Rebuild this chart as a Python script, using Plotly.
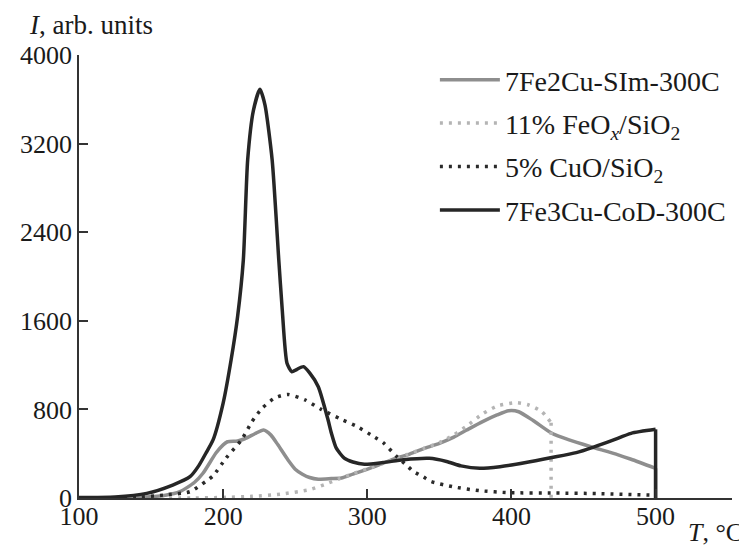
import plotly.graph_objects as go

# 7Fe3Cu-CoD-300C (black solid); drops to 0 at the last temperature
t_black = [100, 125, 147, 165, 177, 183, 188, 193, 200, 205.5, 210, 214, 217, 221, 225.5, 229, 234, 238.6, 241, 244.3,
           247.7, 251, 255.7, 260, 266, 272.8, 275, 278.5, 284, 290, 298, 311, 325, 343, 355, 365, 378, 392, 410,
           428, 445, 457, 470, 483, 500]
i_black = [5, 10, 42, 117, 192, 290, 404, 524, 857, 1246, 1637, 2149, 3052, 3500, 3690, 3550, 3052, 2149, 1698, 1216,
           1140, 1160, 1186, 1130, 1005, 704, 590, 450, 360, 325, 305, 320, 345, 358, 330, 290, 268, 283, 320,
           365, 410, 460, 520, 584, 620]

# 7Fe2Cu-SIm-300C (gray solid); drops to 0 at the last temperature
t_gray = [100, 140, 160, 170, 180, 186, 195, 200, 203, 210, 215, 222, 228, 233, 238, 245, 250, 255, 260, 266, 275, 282,
          290, 305, 320, 328, 340, 350, 360, 369, 380, 390, 398, 405, 415, 428, 440, 455, 474, 483, 500]
i_gray = [0, 5, 25, 57, 140, 223, 406, 480, 508, 515, 535, 580, 614, 570, 480, 343, 260, 215, 185, 170, 175, 180,
          215, 283, 360, 390, 450, 494, 550, 614, 690, 750, 788, 779, 700, 584, 524, 463, 390, 350, 268]

# 11% FeOx/SiO2 (light gray dotted); drops to 0 at the last temperature
t_feox = [100, 180, 200, 220, 240, 260, 270, 280, 290, 300, 315, 327, 340, 350, 360, 368, 380, 390, 403, 412, 421,
          427.5]
i_feox = [0, 0, 5, 15, 35, 75, 120, 170, 220, 265, 330, 390, 450, 500, 570, 640, 760, 830, 861, 840, 780, 680]

# 5% CuO/SiO2 (black dotted)
t_cuo = [100, 140, 159, 177, 188, 193, 202, 213, 220, 227, 236, 245, 257, 268, 282, 293, 305, 311, 320, 326, 332,
         339, 344, 360, 378, 398, 430, 460, 500]
i_cuo = [0, 5, 27, 57, 150, 200, 360, 530, 690, 810, 905, 935, 885, 800, 710, 645, 550, 500, 380, 310, 240,
         190, 150, 100, 66, 48, 45, 40, 25]

x_ticks = [100, 200, 300, 400, 500]
y_ticks = [0, 800, 1600, 2400, 3200, 4000]

FONT = "Liberation Serif"
TXT = "#1a1a1a"
DOT = "3px,6px"

series = [
    ("7Fe2Cu-SIm-300C", t_gray, i_gray, dict(color="#8e8e8e", width=3.5)),
    ("11% FeO<sub><i>x</i></sub>/SiO<sub>2</sub>", t_feox, i_feox, dict(color="#b4b4b4", width=3.5, dash=DOT)),
    ("5% CuO/SiO<sub>2</sub>", t_cuo, i_cuo, dict(color="#2a2a2a", width=3.5, dash=DOT)),
    ("7Fe3Cu-CoD-300C", t_black, i_black, dict(color="#262626", width=3.5)),
]
drops = {"7Fe2Cu-SIm-300C", "11% FeO<sub><i>x</i></sub>/SiO<sub>2</sub>", "7Fe3Cu-CoD-300C"}

fig = go.Figure()
for k, (name, tx, iy, ln) in enumerate(series):
    fig.add_trace(go.Scatter(x=tx, y=iy, mode="lines", name=name, legendgroup=f"g{k}",
                             line=dict(shape="spline", smoothing=0.6, **ln)))
    if name in drops:
        # vertical fall of the signal to zero at the end of the run
        fig.add_trace(go.Scatter(x=[tx[-1], tx[-1]], y=[iy[-1], 0], mode="lines", legendgroup=f"g{k}",
                                 showlegend=False, line=ln, hoverinfo="skip"))

fig.update_layout(
    width=739, height=538,
    margin=dict(l=63, r=15, t=47, b=48),
    paper_bgcolor="white", plot_bgcolor="white",
    font=dict(family=FONT, size=26, color=TXT),
    showlegend=True,
    legend=dict(x=0.545, y=1.0, xanchor="left", yanchor="top", bgcolor="rgba(0,0,0,0)",
                itemwidth=60, tracegroupgap=4, traceorder="grouped",
                font=dict(family=FONT, size=28, color=TXT)),
    xaxis=dict(range=[100, 553], tickvals=x_ticks, ticks="inside", ticklen=9, tickwidth=1.5,
               tickcolor="#333", showline=True, linecolor="#333", linewidth=1.5, showgrid=False,
               zeroline=False, tickfont=dict(family=FONT, size=26, color=TXT), ticklabelstandoff=-6),
    yaxis=dict(range=[0, 4000], tickvals=y_ticks, ticks="inside", ticklen=9, tickwidth=1.5,
               tickcolor="#333", showline=True, linecolor="#333", linewidth=1.5, showgrid=False,
               zeroline=False, tickfont=dict(family=FONT, size=26, color=TXT)),
    annotations=[
        dict(text="<i>I</i>, arb. units", xref="paper", yref="paper", x=-0.080, y=1.0, yshift=30,
             xanchor="left", yanchor="middle", showarrow=False, font=dict(family=FONT, size=27, color=TXT)),
        dict(text="<i>T</i>, °C", xref="paper", yref="paper", x=1.0, y=0, xshift=13, yshift=-34,
             xanchor="right", yanchor="middle", showarrow=False, font=dict(family=FONT, size=26, color=TXT)),
    ],
)

fig.write_html("out.html")
